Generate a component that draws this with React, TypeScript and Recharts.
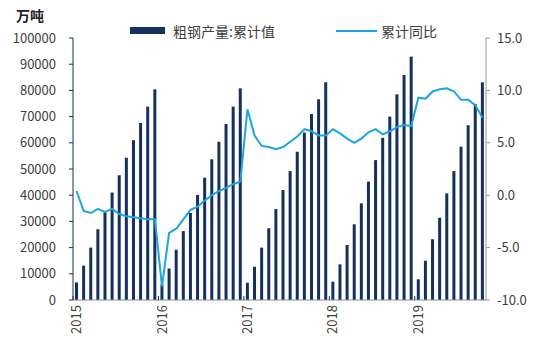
import { ComposedChart, Bar, Line, XAxis, YAxis } from "recharts";

const years = ["2015", "2016", "2017", "2018", "2019"];
const monthNums = ["01", "02", "03", "04", "05", "06", "07", "08", "09", "10", "11", "12"];

// 粗钢产量:累计值 (万吨)
const output2015 = [6700, 13100, 20000, 27000, 33500, 41000, 47600, 54300, 61000, 67600, 73800, 80400];
const output2016 = [6000, 12000, 19200, 26300, 33200, 40100, 46700, 53700, 60400, 67200, 73800, 80800];
const output2017 = [6600, 12700, 20000, 27400, 34700, 42000, 49200, 56600, 63900, 71000, 76600, 83100];
const output2018 = [7000, 13600, 21000, 28900, 36900, 45200, 53400, 61900, 70000, 78500, 85900, 92900];
const output2019 = [7900, 15000, 23200, 31400, 40700, 49200, 58500, 66700, 74800, 83100];

// 累计同比 (%)
const yoy2015 = [0.4, -1.5, -1.7, -1.3, -1.6, -1.3, -1.8, -2.0, -2.1, -2.2, -2.3, -2.3];
const yoy2016 = [-8.7, -3.6, -3.2, -2.3, -1.4, -1.1, -0.5, 0.0, 0.4, 0.7, 1.05, 1.3];
const yoy2017 = [8.2, 5.7, 4.7, 4.6, 4.4, 4.6, 5.1, 5.6, 6.3, 6.1, 5.7, 5.7];
const yoy2018 = [6.3, 5.9, 5.4, 5.0, 5.4, 6.0, 6.3, 5.8, 6.1, 6.5, 6.7, 6.6];
const yoy2019 = [9.3, 9.2, 9.9, 10.1, 10.2, 9.9, 9.1, 9.1, 8.6, 7.4];

const leftTicks = [0, 10000, 20000, 30000, 40000, 50000, 60000, 70000, 80000, 90000, 100000];
const rightTicks = [-10, -5, 0, 5, 10, 15];

const outputs = [output2015, output2016, output2017, output2018, output2019];
const yoys = [yoy2015, yoy2016, yoy2017, yoy2018, yoy2019];

const data: any[] = [];
years.forEach((y, yi) => {
  outputs[yi].forEach((v, mi) => {
    data.push({ m: `${y}-${monthNums[mi]}`, output: v, yoy: yoys[yi][mi] });
  });
});

const NAVY = "#14305E";
const BLUE = "#1AA6DF";
const TEXT = "#404040";
const FONT = "'Noto Sans CJK SC', 'Noto Sans', sans-serif";
const STEP = 413 / 58;

function YearTick(props: any) {
  const { x, y, payload } = props;
  const v: string = payload.value;
  if (!v.endsWith("-01")) return <g />;
  return (
    <g>
      <line x1={x - STEP / 2} x2={x - STEP / 2} y1={y} y2={y - 4} stroke={NAVY} strokeWidth={1} />
      <text
        transform={`translate(${x + 4.5},${y + 5}) rotate(-90)`}
        textAnchor="end"
        fill={TEXT}
        fontSize={13}
        fontFamily={FONT}
      >
        {v.slice(0, 4)}
      </text>
    </g>
  );
}

export default function App() {
  return (
    <div style={{ position: "absolute", left: 0, top: 0, width: 542, height: 352, background: "#fff", fontFamily: FONT }}>
      <div style={{ position: "absolute", left: 16, top: 8, fontSize: 14, fontWeight: "bold", color: "#222", lineHeight: "15px" }}>万吨</div>

      <div style={{ position: "absolute", left: 130, top: 27, width: 35, height: 7, background: NAVY }} />
      <div style={{ position: "absolute", left: 173, top: 21, fontSize: 14, color: TEXT, lineHeight: "20px" }}>粗钢产量:累计值</div>
      <div style={{ position: "absolute", left: 336, top: 30, width: 41, height: 2, background: BLUE }} />
      <div style={{ position: "absolute", left: 381, top: 21, fontSize: 14, color: TEXT, lineHeight: "20px" }}>累计同比</div>

      <ComposedChart
        width={542}
        height={352}
        data={data}
        margin={{ top: 38, right: 6, bottom: 7, left: 13 }}
        barCategoryGap={0}
      >
        <XAxis
          dataKey="m"
          interval={0}
          tick={<YearTick />}
          tickLine={false}
          tickSize={0}
          tickMargin={0}
          height={45}
          stroke="#8090A8"
        />
        <YAxis
          yAxisId="left"
          domain={[0, 100000]}
          ticks={leftTicks}
          interval={0}
          width={60}
          tickSize={4}
          tickMargin={13}
          stroke={NAVY}
          tick={{ fill: TEXT, fontSize: 13, fontFamily: FONT }}
        />
        <YAxis
          yAxisId="right"
          orientation="right"
          domain={[-10, 15]}
          ticks={rightTicks}
          interval={0}
          width={50}
          tickSize={4}
          tickMargin={7}
          stroke="#999"
          tickFormatter={(v: number) => v.toFixed(1)}
          tick={{ fill: TEXT, fontSize: 13, fontFamily: FONT, textAnchor: "start" }}
        />
        <Bar yAxisId="left" dataKey="output" fill={NAVY} barSize={3} isAnimationActive={false} />
        <Line
          yAxisId="right"
          type="linear"
          dataKey="yoy"
          stroke={BLUE}
          strokeWidth={2}
          dot={false}
          isAnimationActive={false}
        />
      </ComposedChart>
    </div>
  );
}
